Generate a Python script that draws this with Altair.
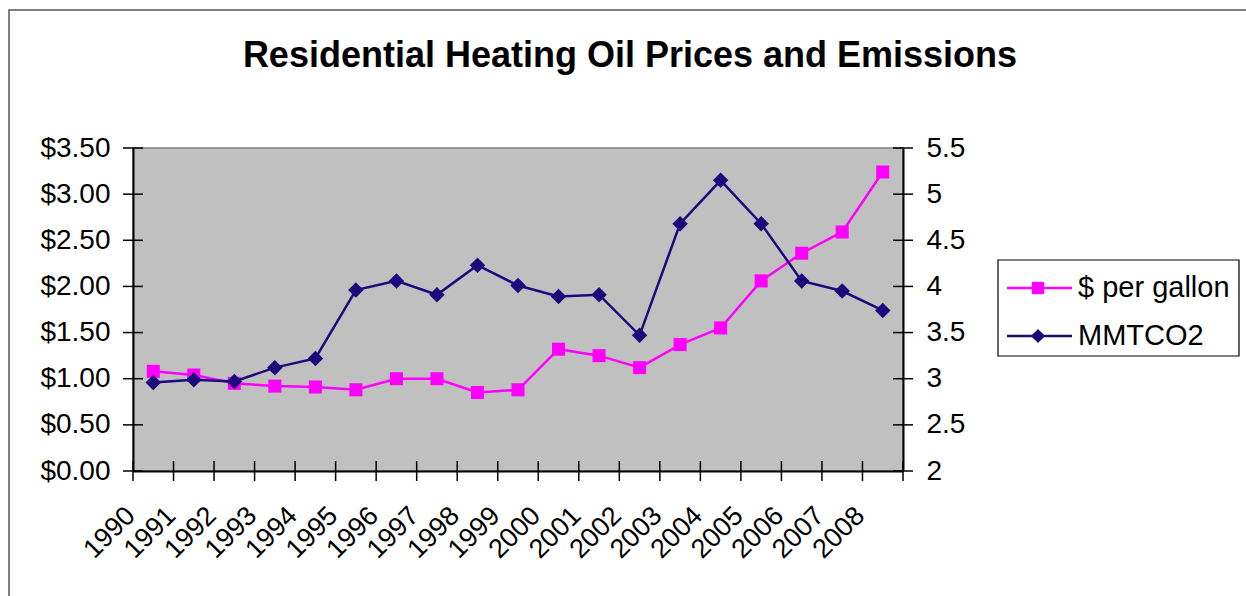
import altair as alt
import pandas as pd

# ---- data -------------------------------------------------------------
years = list(range(1990, 2009))
price = [1.08, 1.04, 0.95, 0.92, 0.91, 0.88, 1.00, 1.00, 0.85, 0.88,
         1.32, 1.25, 1.12, 1.37, 1.55, 2.06, 2.36, 2.59, 3.24]
mmtco2 = [2.96, 2.99, 2.97, 3.12, 3.22, 3.96, 4.06, 3.91, 4.23, 4.01,
          3.89, 3.91, 3.47, 4.68, 5.15, 4.68, 4.06, 3.95, 3.74]
price_ticks = [0, 0.5, 1.0, 1.5, 2.0, 2.5, 3.0, 3.5]
co2_ticks = [2, 2.5, 3, 3.5, 4, 4.5, 5, 5.5]
series = ["$ per gallon", "MMTCO2"]
title_text = "Residential Heating Oil Prices and Emissions"

# ---- style ------------------------------------------------------------
W, H = 770, 323
FONT = "Liberation Sans"
PINK = "#FF00FF"
NAVY = "#1C0A7C"
TICK_FS = 28

df = pd.DataFrame({"year": years, "price": price, "mmtco2": mmtco2})
# category boundaries for the crossing tick marks on the year axis
bounds = pd.DataFrame({"year": [y - 0.5 for y in years] + [years[-1] + 0.5]})
left_ticks = pd.DataFrame({"price": price_ticks})
right_ticks = pd.DataFrame({"mmtco2": co2_ticks})
one = pd.DataFrame({"k": [0]})

x_enc = alt.X(
    "year:Q",
    scale=alt.Scale(domain=[years[0] - 0.5, years[-1] + 0.5], nice=False, zero=False),
    axis=alt.Axis(
        values=years, format="d", title=None, grid=False,
        tickSize=0, domainColor="black", domainWidth=2,
        labelAngle=-45, labelAlign="right", labelBaseline="top",
        labelPadding=31, labelOffset=-32,
        labelFont=FONT, labelFontSize=27, labelColor="black",
        labelOverlap=False, labelBound=False, labelFlush=False,
    ),
)

y_price = alt.Y(
    "price:Q",
    scale=alt.Scale(domain=[0, 3.5], nice=False, zero=False),
    axis=alt.Axis(
        orient="left", values=price_ticks, format="$.2f", title=None,
        grid=False, tickSize=0, domainColor="black", domainWidth=2,
        labelPadding=23, labelFont=FONT, labelFontSize=TICK_FS,
        labelColor="black", labelOverlap=False, labelFlush=False,
    ),
)

y_co2 = alt.Y(
    "mmtco2:Q",
    scale=alt.Scale(domain=[2, 5.5], nice=False, zero=False),
    axis=alt.Axis(
        orient="right", values=co2_ticks, format="~g", title=None,
        grid=False, tickSize=0, domainColor="black", domainWidth=2,
        labelPadding=23, labelFont=FONT, labelFontSize=TICK_FS,
        labelColor="black", labelOverlap=False, labelFlush=False,
    ),
)

# outer frame around the whole figure
frame = alt.Chart(one).mark_rect(
    fillOpacity=0, stroke="#555555", strokeWidth=1.5
).encode(
    x=alt.value(-124), x2=alt.value(1130), y=alt.value(-138), y2=alt.value(470)
)

title = alt.Chart(one).mark_text(
    text=title_text, font=FONT, fontSize=36, fontWeight="bold",
    color="black", align="center", baseline="alphabetic",
).encode(x=alt.value(497), y=alt.value(-81))

price_line = alt.Chart(df).mark_line(color=PINK, strokeWidth=2.5).encode(x=x_enc, y=y_price)
price_pts = alt.Chart(df).mark_point(
    shape="square", filled=True, size=170, color=PINK, opacity=1
).encode(x=x_enc, y=y_price)

left_tick_marks = alt.Chart(left_ticks).mark_rule(color="black", strokeWidth=1.5).encode(
    y=y_price, x=alt.value(-10), x2=alt.value(10)
)
x_tick_marks = alt.Chart(bounds).mark_rule(color="black", strokeWidth=1.5).encode(
    x=x_enc, y=alt.value(H - 10), y2=alt.value(H + 10)
)

co2_line = alt.Chart(df).mark_line(color=NAVY, strokeWidth=2.5).encode(x=x_enc, y=y_co2)
co2_pts = alt.Chart(df).mark_point(
    shape="diamond", filled=True, size=240, color=NAVY, opacity=1
).encode(x=x_enc, y=y_co2)
right_tick_marks = alt.Chart(right_ticks).mark_rule(color="black", strokeWidth=1.5).encode(
    y=y_co2, x=alt.value(W - 10), x2=alt.value(W + 10)
)

# legend box with line-and-marker keys
LX0, LX1, LY0, LY1 = 865, 1106, 112, 208
legend_box = alt.Chart(one).mark_rect(
    fill="white", stroke="black", strokeWidth=1.2
).encode(x=alt.value(LX0), x2=alt.value(LX1), y=alt.value(LY0), y2=alt.value(LY1))

legend_parts = []
for name, color, shape, size, ly in [
    (series[0], PINK, "square", 150, 140),
    (series[1], NAVY, "diamond", 200, 188),
]:
    legend_parts.append(
        alt.Chart(one).mark_rule(color=color, strokeWidth=2.5).encode(
            x=alt.value(874), x2=alt.value(939), y=alt.value(ly)
        )
    )
    legend_parts.append(
        alt.Chart(one).mark_point(
            shape=shape, filled=True, size=size, color=color, opacity=1
        ).encode(x=alt.value(905), y=alt.value(ly))
    )
    legend_parts.append(
        alt.Chart(one).mark_text(
            text=name, font=FONT, fontSize=29, color="black",
            align="left", baseline="middle",
        ).encode(x=alt.value(945), y=alt.value(ly))
    )

price_layer = alt.layer(
    frame, title, price_line, price_pts, left_tick_marks, x_tick_marks,
    legend_box, *legend_parts,
)
co2_layer = alt.layer(co2_line, co2_pts, right_tick_marks)

chart = (
    alt.layer(price_layer, co2_layer)
    .resolve_scale(y="independent")
    .properties(
        width=W, height=H,
        padding={"left": 133, "top": 148, "right": 343, "bottom": 125},
        autosize=alt.AutoSizeParams(type="none"),
        background="white",
    )
    .configure_view(fill="#C0C0C0", stroke="#808080", strokeWidth=1.5)
)

chart.save("out.html", embed_options={"renderer": "svg", "actions": False})
